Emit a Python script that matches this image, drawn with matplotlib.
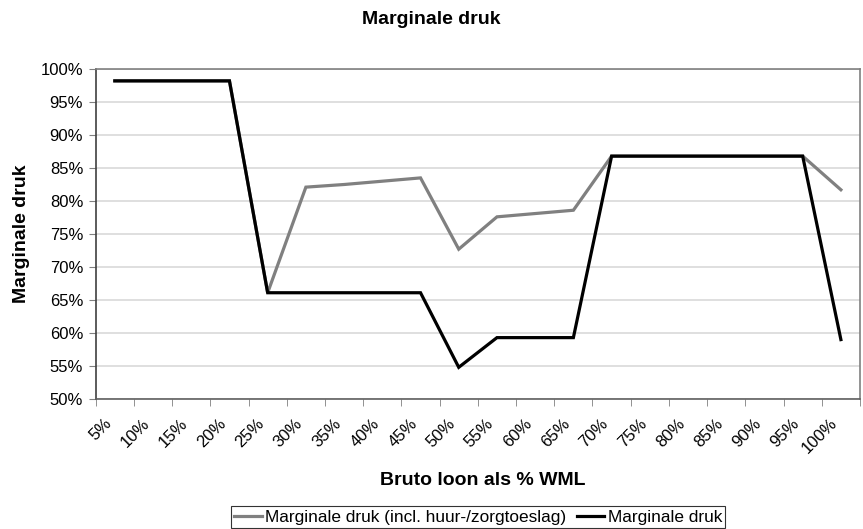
import matplotlib.pyplot as plt
import matplotlib.transforms as mtrans
import numpy as np

plt.rcParams['font.family'] = ['Liberation Sans', 'DejaVu Sans']

# data
categories = ['5%', '10%', '15%', '20%', '25%', '30%', '35%', '40%', '45%', '50%',
              '55%', '60%', '65%', '70%', '75%', '80%', '85%', '90%', '95%', '100%']
druk_incl_toeslag = [98.2, 98.2, 98.2, 98.2, 66.1, 82.1, 82.5, 83.0, 83.5, 72.7,
                     77.6, 78.1, 78.6, 86.8, 86.8, 86.8, 86.8, 86.8, 86.8, 81.7]
druk = [98.2, 98.2, 98.2, 98.2, 66.1, 66.1, 66.1, 66.1, 66.1, 54.8,
        59.3, 59.3, 59.3, 86.8, 86.8, 86.8, 86.8, 86.8, 86.8, 59.0]
yticks = [50, 55, 60, 65, 70, 75, 80, 85, 90, 95, 100]

W, H = 863, 529
fig = plt.figure(figsize=(W / 100, H / 100), dpi=100)
ax = fig.add_axes([95.7 / W, 1 - 399 / H, (860 - 95.7) / W, (399 - 69) / H])

x = np.arange(len(categories))
ax.plot(x, druk_incl_toeslag, color='#808080', lw=2.3, solid_joinstyle='miter',
        label='Marginale druk (incl. huur-/zorgtoeslag)', zorder=3)
ax.plot(x, druk, color='black', lw=2.3, solid_joinstyle='miter',
        label='Marginale druk', zorder=4)

ax.set_xlim(-0.5, len(categories) - 0.5)
ax.set_ylim(50, 100)
ax.set_yticks(yticks)
ax.set_yticklabels([f'{v}%' for v in yticks], fontsize=12)
ax.yaxis.grid(True, color='#d9d9d9', lw=1.2)
ax.set_axisbelow(True)

ax.set_xticks(x)
ax.set_xticklabels(categories, fontsize=12, rotation=45, ha='right',
                   rotation_mode='anchor')
ax.tick_params(axis='x', which='major', length=0, pad=12)
shift = mtrans.ScaledTranslation(-11 / 100, 0, fig.dpi_scale_trans)
for lbl in ax.get_xticklabels():
    lbl.set_transform(lbl.get_transform() + shift)
ax.set_xticks(np.arange(-0.5, len(categories)), minor=True)
ax.tick_params(axis='x', which='minor', length=5, color='#808080')
ax.tick_params(axis='y', length=5, color='#808080', pad=4)

for s in ax.spines.values():
    s.set_color('#808080')
    s.set_linewidth(1.2)
ax.spines['left'].set_color('#404040')
ax.spines['bottom'].set_color('#606060')

ax.set_ylabel('Marginale druk', fontsize=14, fontweight='bold')
ax.yaxis.set_label_coords(-0.086, 0.5)
ax.set_xlabel('Bruto loon als % WML', fontsize=14, fontweight='bold')
ax.xaxis.set_label_coords(0.507, -0.222)
fig.text(431.5 / W, 1 - 19 / H, 'Marginale druk', fontsize=14, fontweight='bold',
         ha='center', va='center')

leg = ax.legend(loc='center', bbox_to_anchor=(478 / W, 1 - 517 / H),
                bbox_transform=fig.transFigure, ncol=2, fontsize=12.4,
                frameon=True, fancybox=False, handlelength=1.6,
                handletextpad=0.2, columnspacing=0.6, borderpad=0.2,
                borderaxespad=0)
leg.get_frame().set_edgecolor('black')
leg.get_frame().set_linewidth(0.8)

fig.savefig('out.png', dpi=100)
